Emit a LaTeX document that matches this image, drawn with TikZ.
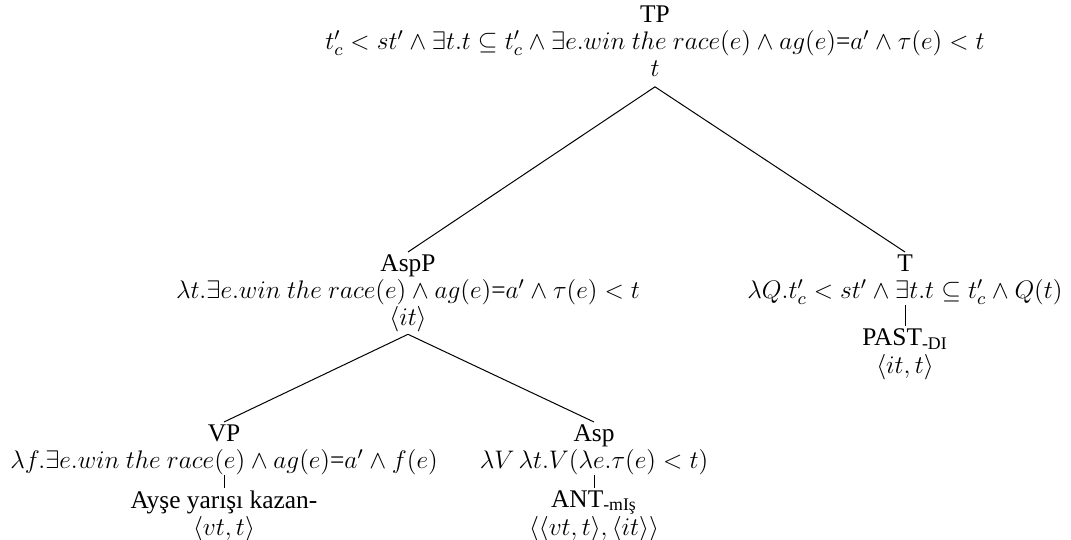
\RequirePackage{fix-cm}
\documentclass[tikz,border=0pt]{standalone}
\usepackage[no-math]{fontspec}
\setmainfont{Liberation Serif}
\usepackage{amsmath}
\usepackage{tikz}

\tikzset{
  cat/.style={align=center, inner sep=1pt, anchor=north, font=\fontsize{12.7}{13.6}\selectfont},
  branch/.style={line width=0.5pt}
}

\begin{document}
\begin{tikzpicture}[x=0.5pt,y=-0.5pt]
        \useasboundingbox (0,0) rectangle (1071,540);

        % root
        \node[cat] (tp) at (655,3) {TP\\
          $t'_c < st' \wedge \exists t.t \subseteq t'_c \wedge \exists e.win\ the\ race(e) \wedge ag(e)\mbox{=}a' \wedge \tau(e) < t$\\
          $t$};
        \coordinate (tp-foot) at ([yshift=-4pt]tp.south);

        % left branch
        \node[cat] (aspp) at (408,252) {AspP\\
          $\lambda t.\exists e.win\ the\ race(e) \wedge ag(e)\mbox{=}a' \wedge \tau(e) < t$\\
          $\langle it\rangle$};
        \node[cat] (vp) at (224,422) {VP\\
          $\lambda f.\exists e.win\ the\ race(e) \wedge ag(e)\mbox{=}a' \wedge f(e)$};
        \node[cat] (ayse) at (224,488) {Ayşe yarışı kazan-\\
          $\langle vt,t\rangle$};
        \node[cat] (asp) at (594,422) {Asp\\
          $\lambda V\,\lambda t.V(\lambda e.\tau(e) < t)$};
        \node[cat] (ant) at (594,488) {ANT\textsubscript{-mIş}\\[0.5pt]
          $\langle\langle vt,t\rangle,\langle it\rangle\rangle$};

        % right branch
        \node[cat] (t) at (905,252) {T\\
          $\lambda Q.t'_c < st' \wedge \exists t.t \subseteq t'_c \wedge Q(t)$};
        \node[cat] (past) at (905,326) {PAST\textsubscript{-DI}\\[0.5pt]
          $\langle it,t\rangle$};

        \draw[branch] (tp-foot) -- (aspp.north) (tp-foot) -- (t.north);
        \draw[branch] (aspp.south) -- (vp.north) (aspp.south) -- (asp.north);
        \draw[branch] ([yshift=1pt]t.south) -- (past.north);
        \draw[branch] ([yshift=1pt]vp.south) -- (ayse.north);
        \draw[branch] ([yshift=1pt]asp.south) -- (ant.north);
      \end{tikzpicture}
\end{document}
